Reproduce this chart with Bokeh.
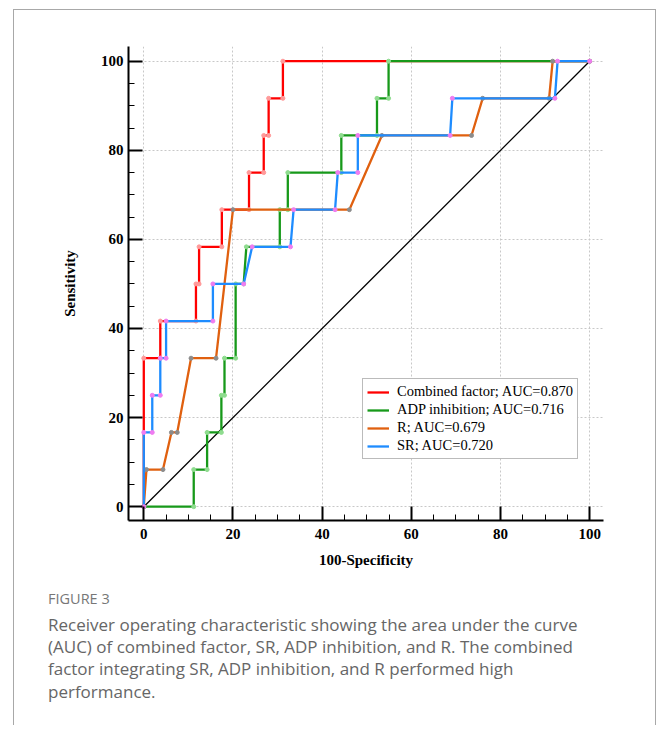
from bokeh.plotting import figure
from bokeh.layouts import column
from bokeh.models import Range1d, Legend, LegendItem, FixedTicker
from bokeh.core.properties import value
from bokeh.embed import file_html
from bokeh.resources import INLINE

# ---------------- data ----------------
combined_x = [0, 0, 3.7, 3.7, 11.7, 11.7, 12.4, 12.4, 17.5, 17.5, 23.6, 23.6, 26.9, 26.9, 28.0, 28.0, 31.2, 31.2, 100]
combined_y = [0, 33.33, 33.33, 41.67, 41.67, 50, 50, 58.33, 58.33, 66.67, 66.67, 75, 75, 83.33, 83.33, 91.67, 91.67, 100, 100]

adp_x = [0, 11.2, 11.2, 14.2, 14.2, 17.4, 17.4, 18.1, 18.1, 20.6, 20.6, 22.4, 23.0, 30.5, 30.5, 32.3, 32.3, 44.3, 44.3, 52.3, 52.3, 54.9, 54.9, 100]
adp_y = [0, 0, 8.33, 8.33, 16.67, 16.67, 25, 25, 33.33, 33.33, 50, 50, 58.33, 58.33, 66.67, 66.67, 75, 75, 83.33, 83.33, 91.67, 91.67, 100, 100]

r_x = [0, 0.6, 4.3, 6.2, 7.5, 10.6, 16.2, 20.0, 46.1, 53.4, 73.5, 76.0, 90.9, 91.7, 100]
r_y = [0, 8.33, 8.33, 16.67, 16.67, 33.33, 33.33, 66.67, 66.67, 83.33, 83.33, 91.67, 91.67, 100, 100]

sr_x = [0, 0, 1.9, 1.9, 3.7, 3.7, 5.0, 5.0, 15.5, 15.5, 22.4, 24.3, 32.9, 33.6, 42.9, 43.5, 48.0, 48.0, 68.7, 69.2, 92.2, 92.8, 100]
sr_y = [0, 16.67, 16.67, 25, 25, 33.33, 33.33, 41.67, 41.67, 50, 50, 58.33, 58.33, 66.67, 66.67, 75, 75, 83.33, 83.33, 91.67, 91.67, 100, 100]

diag_x = [0, 100]
diag_y = [0, 100]

series_names = ["Combined factor; AUC=0.870", "ADP inhibition; AUC=0.716", "R; AUC=0.679", "SR; AUC=0.720"]
major_ticks = [0, 20, 40, 60, 80, 100]
minor_ticks = list(range(0, 101, 5))

caption_head = "FIGURE 3"
caption_lines = [
    "Receiver operating characteristic showing the area under the curve",
    "(AUC) of combined factor, SR, ADP inhibition, and R. The combined",
    "factor integrating SR, ADP inhibition, and R performed high",
    "performance.",
]

# ---------------- main chart ----------------
p = figure(width=641, height=565, output_backend="svg", toolbar_location=None,
           x_range=Range1d(-3.43, 103.1), y_range=Range1d(-3.1, 103.3),
           min_border_left=114, min_border_right=52, min_border_top=36, min_border_bottom=55)
p.frame_align = False
p.outline_line_color = None
p.background_fill_color = "white"
p.border_fill_color = "white"

ticker = FixedTicker(ticks=major_ticks, minor_ticks=minor_ticks)
for ax in (p.xaxis[0], p.yaxis[0]):
    ax.ticker = ticker
    ax.axis_line_width = 2
    ax.axis_line_color = "black"
    ax.major_tick_in = 14
    ax.major_tick_out = 0
    ax.minor_tick_in = 6
    ax.minor_tick_out = 0
    ax.major_tick_line_width = 2
    ax.major_tick_line_color = "black"
    ax.minor_tick_line_width = 1
    ax.minor_tick_line_color = "black"
    ax.major_label_text_font = "Liberation Serif"
    ax.major_label_text_font_style = "bold"
    ax.major_label_text_font_size = "15px"
    ax.major_label_text_color = "black"
    ax.axis_label_text_font = "Liberation Serif"
    ax.axis_label_text_font_style = "bold"
    ax.axis_label_text_font_size = "15px"
    ax.axis_label_text_color = "black"

p.xaxis[0].axis_label = "100-Specificity"
p.yaxis[0].axis_label = "Sensitivity"
p.xaxis[0].major_label_standoff = 8
p.yaxis[0].major_label_standoff = 5
p.xaxis[0].axis_label_standoff = 10
p.yaxis[0].axis_label_standoff = 20

for g in (p.xgrid[0], p.ygrid[0]):
    g.ticker = ticker
    g.grid_line_color = "#c8c8c8"
    g.grid_line_dash = "2 2"
    g.grid_line_width = 1

# reference diagonal
p.line(diag_x, diag_y, line_color="black", line_width=1.3)

styles = [
    (combined_x, combined_y, "#ff0000", "#ff9a9a"),
    (adp_x, adp_y, "#17991a", "#8fdc8f"),
    (r_x, r_y, "#e0600f", "#8c8c8c"),
    (sr_x, sr_y, "#1e8cff", "#f07cf0"),
]
renderers = []
for xs, ys, col, mcol in styles:
    r = p.line(xs, ys, line_color=col, line_width=2.3)
    p.scatter(xs, ys, size=4, fill_color=mcol, line_color=mcol, line_width=1)
    renderers.append(r)

legend = Legend(items=[LegendItem(label=n, renderers=[r]) for n, r in zip(series_names, renderers)],
                location=(234, 61))
legend.border_line_color = "#777777"
legend.border_line_width = 1
legend.background_fill_color = "white"
legend.background_fill_alpha = 1
legend.padding = 4
legend.spacing = 1
legend.margin = 0
legend.glyph_width = 22
legend.glyph_height = 16
legend.label_height = 16
legend.label_standoff = 8
legend.label_text_font = "Liberation Serif"
legend.label_text_font_size = "14.5px"
legend.label_text_color = "black"
p.add_layout(legend)

# ---------------- caption panel ----------------
cap_w, cap_h = 641, 150
cap = figure(width=cap_w, height=cap_h, output_backend="svg", toolbar_location=None,
             x_range=Range1d(0, cap_w), y_range=Range1d(cap_h, 0),
             x_axis_type=None, y_axis_type=None, min_border=0)
cap.frame_align = False
cap.outline_line_color = None
cap.xgrid.visible = False
cap.ygrid.visible = False
cap.text(x=[33.5], y=[23], text=[caption_head], text_font=value("Open Sans"), text_font_size="14.5px",
         text_color="#777777", text_baseline="alphabetic")
cap.text(x=[33.5] * len(caption_lines), y=[49 + 22.2 * i for i in range(len(caption_lines))],
         text=caption_lines, text_font=value("Open Sans"), text_font_size="17px",
         text_color="#666666", text_baseline="alphabetic")

layout = column(p, cap, spacing=0,
                styles={"margin-left": "13px", "margin-top": "9px",
                        "border-left": "1px solid #a8a8a8", "border-right": "1px solid #a8a8a8",
                        "border-top": "1px solid #a8a8a8"})

open("out.html", "w").write(file_html(layout, INLINE))
